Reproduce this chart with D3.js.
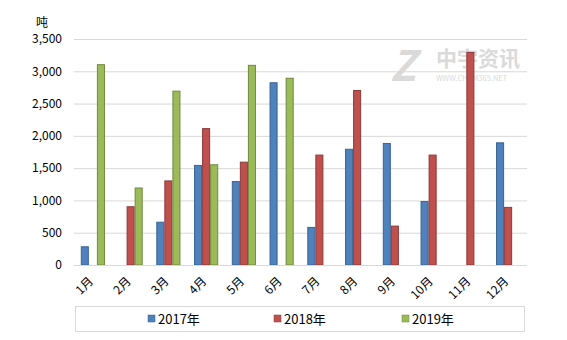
<!DOCTYPE html>
<html><head><meta charset="utf-8">
<script src="https://cdn.jsdelivr.net/npm/d3@7"></script>
<style>body{margin:0;background:#fff}svg{display:block}text{font-family:"Noto Sans CJK SC","Noto Sans",sans-serif}</style>
</head><body>
<svg id="c" width="567" height="340"></svg>
<script>
const months = ["1月","2月","3月","4月","5月","6月","7月","8月","9月","10月","11月","12月"];
const seriesNames = ["2017年","2018年","2019年"];
const v2017 = [290,0,670,1550,1300,2830,590,1800,1890,990,0,1900];
const v2018 = [0,910,1310,2120,1600,0,1710,2710,610,1710,3300,900];
const v2019 = [3110,1200,2700,1560,3100,2900,0,0,0,0,0,0];
const yTicks = [0,500,1000,1500,2000,2500,3000,3500];
const fills = ["#4F81BD","#C0504D","#9BBB59"];
const strokes = ["#3A6495","#8C3A38","#71893F"];
const unit = "吨";

const svg = d3.select("#c");
const m = {l:74, r:40, t:39, b:75};
const W = 567, H = 340;
const x = d3.scaleBand().domain(months).range([m.l, W-m.r]).paddingInner(0.36).paddingOuter(0.18);
const x1 = d3.scaleBand().domain(seriesNames).range([0, x.bandwidth()]);
const y = d3.scaleLinear().domain([0,3500]).range([H-m.b, m.t]);

// watermark
const wm = svg.append("g").attr("fill","#dadada");
wm.append("text").attr("x",390).attr("y",81).attr("font-size",42).attr("font-weight","bold").attr("font-style","italic").attr("font-family","DejaVu Sans").text("Z");
wm.append("text").attr("x",436).attr("y",66).attr("font-size",21).attr("font-weight","bold").text("中宇资讯");
wm.append("text").attr("x",436).attr("y",81).attr("font-size",7.5).attr("font-family","DejaVu Sans").text("WWW.CHEM365.NET");

// grid
svg.append("g").selectAll("line").data(yTicks.slice(1)).join("line")
  .attr("x1",m.l).attr("x2",W-m.r).attr("y1",d=>y(d)+0.5).attr("y2",d=>y(d)+0.5)
  .attr("stroke","#d9d9d9").attr("stroke-width",1);

// y axis labels
const ya = svg.append("g").attr("transform",`translate(${m.l},0)`)
  .call(d3.axisLeft(y).tickValues(yTicks).tickFormat(d3.format(",")).tickSize(0).tickPadding(12));
ya.select(".domain").remove();
ya.selectAll("text").attr("font-size",12).attr("fill","#000").style("font-family",'"Noto Sans CJK SC",sans-serif');

svg.append("text").attr("x",36).attr("y",27).attr("font-size",12).attr("fill","#000").text(unit);

// bars
const data = [v2017,v2018,v2019];
data.forEach((arr,si)=>{
  svg.append("g").selectAll("rect").data(arr.map((v,i)=>({m:months[i],v})).filter(d=>d.v>0)).join("rect")
    .attr("x",d=>x(d.m)+x1(seriesNames[si])+0.5)
    .attr("y",d=>y(d.v)+0.5)
    .attr("width",x1.bandwidth()-1)
    .attr("height",d=>y(0)-y(d.v)-0.5)
    .attr("fill",fills[si]).attr("stroke",strokes[si]).attr("stroke-width",1);
});

// x axis
svg.append("line").attr("x1",m.l).attr("x2",W-m.r).attr("y1",y(0)+0.5).attr("y2",y(0)+0.5).attr("stroke","#d9d9d9");
const xa = svg.append("g").attr("transform",`translate(0,${y(0)})`)
  .call(d3.axisBottom(x).tickSize(0).tickPadding(0));
xa.select(".domain").remove();
xa.selectAll("text").attr("font-size",12).attr("fill","#000").style("font-family",'"Noto Sans CJK SC",sans-serif')
  .attr("text-anchor","end").attr("dy",0).attr("transform","translate(1,17) rotate(-45)");

// legend
const lg = svg.append("g");
lg.append("rect").attr("x",75.5).attr("y",306.5).attr("width",449).attr("height",25).attr("fill","#fff").attr("stroke","#d9d9d9");
const lx = [148,274,402];
seriesNames.forEach((s,i)=>{
  lg.append("rect").attr("x",lx[i]).attr("y",315).attr("width",7).attr("height",7).attr("fill",fills[i]).attr("stroke",strokes[i]).attr("stroke-width",0.5);
  lg.append("text").attr("x",lx[i]+10).attr("y",323.5).attr("font-size",13).attr("fill","#000").text(s);
});
</script>
</body></html>
